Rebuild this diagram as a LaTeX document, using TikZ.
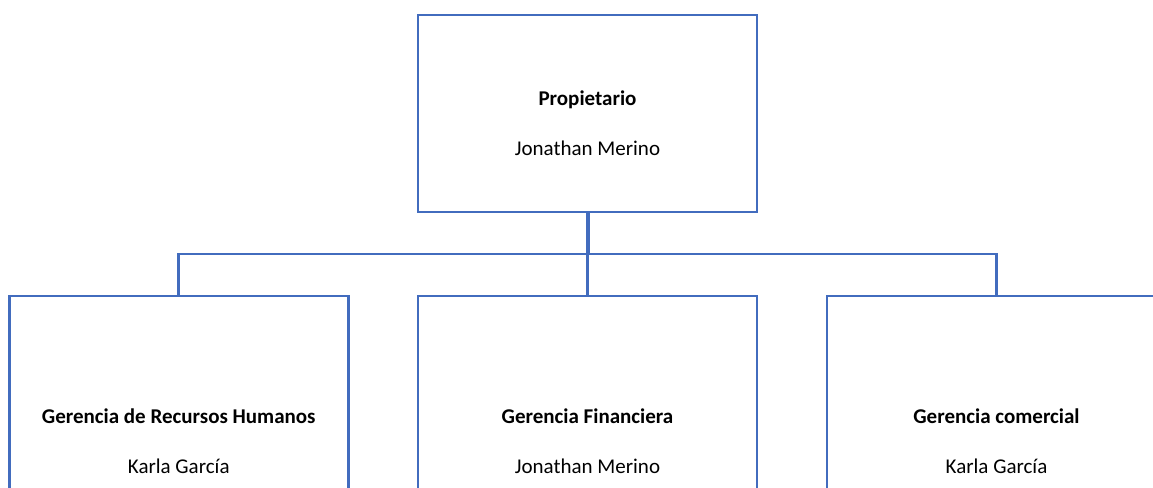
\documentclass[tikz,border=0pt]{standalone}
\usepackage{fontspec}
\setmainfont{Carlito}
\definecolor{boxblue}{RGB}{66,108,190}
\begin{document}
\begin{tikzpicture}[x=1pt,y=-1pt,
  box/.style={draw=boxblue,line width=2.6pt,fill=white,inner sep=0pt,outer sep=0pt,
    minimum width=339pt,minimum height=197pt},
  conn/.style={draw=boxblue,line width=2.6pt},
  trunk/.style={draw=boxblue,line width=4pt},
  title/.style={font=\fontsize{21}{24}\selectfont\bfseries,inner sep=0pt},
  person/.style={font=\fontsize{21}{24}\selectfont,inner sep=0pt}]
\useasboundingbox (0,0) rectangle (1153,487);
\clip (0,0) rectangle (1153,487);
\node[box] (top) at (587.5,113.5) {};
\node[box] (L) at (178.75,394.5) {};
\node[box] (M) at (587.5,394.5) {};
\node[box] (R) at (996.5,394.5) {};
\coordinate (bus) at (587.5,254);
\draw[trunk] (top.south) -- (top.south |- bus);
\draw[conn] (L.north) -- (L.north |- bus) -- (R.north |- bus) -- (R.north);
\draw[conn] (M.north) -- (M.north |- bus);
\node[title] (topT) at (587.5,100) {Propietario};
\node[person] (topP) at (587.5,148) {Jonathan Merino};
\node[title] (LT) at (178.75,416) {Gerencia de Recursos Humanos};
\node[person] (LP) at (178.75,466) {Karla García};
\node[title] (MT) at (587.5,416) {Gerencia Financiera};
\node[person] (MP) at (587.5,466) {Jonathan Merino};
\node[title] (RT) at (996.5,416) {Gerencia comercial};
\node[person] (RP) at (996.5,466) {Karla García};
\end{tikzpicture}
\end{document}
